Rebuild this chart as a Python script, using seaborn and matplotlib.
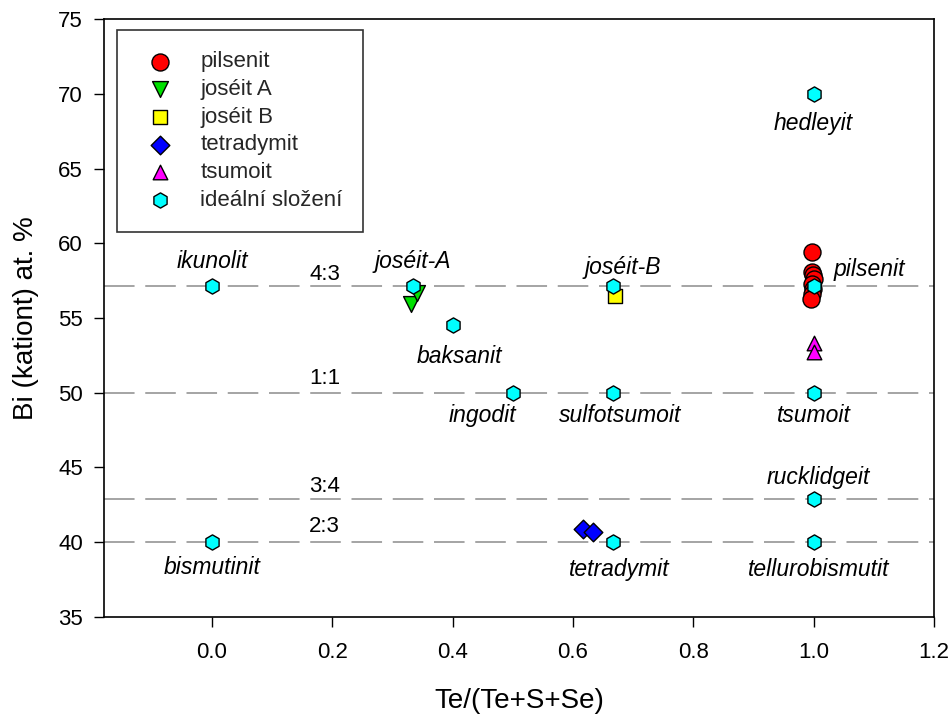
import matplotlib
matplotlib.use("Agg")
import matplotlib.pyplot as plt
import seaborn as sns
import pandas as pd

sns.set_theme(style="white")
plt.rcParams['font.family'] = ['Liberation Sans', 'DejaVu Sans']

# ---- data ----
pils_x = [0.998, 0.997, 0.999, 1.000, 0.998, 0.999, 0.997, 0.996]
pils_y = [59.45, 58.1, 57.9, 57.6, 57.25, 56.95, 56.6, 56.3]
josA_x = [0.331, 0.340]
josA_y = [55.95, 56.7]
josB_x = [0.670]
josB_y = [56.45]
tetr_x = [0.617, 0.634]
tetr_y = [40.85, 40.65]
tsum_x = [1.0, 1.0]
tsum_y = [53.3, 52.75]

ideal_names = ["ikunolit", "bismutinit", "joséit-A", "baksanit", "ingodit",
               "joséit-B", "sulfotsumoit", "tetradymit", "hedleyit", "pilsenit",
               "tsumoit", "rucklidgeit", "tellurobismutit"]
ideal_x = [0.0, 0.0, 1/3, 0.4, 0.5, 2/3, 2/3, 2/3, 1.0, 1.0, 1.0, 1.0, 1.0]
ideal_y = [57.14, 40.0, 57.14, 54.55, 50.0, 57.14, 50.0, 40.0, 70.0, 57.14, 50.0, 42.86, 40.0]
# label offsets (data units) for each ideal name
label_dx = [0.0, 0.0, 0.0, 0.012, -0.05, 0.016, 0.012, 0.01, 0.0, 0.092, 0.0, 0.008, 0.008]
label_dy = [1.65, -1.7, 1.65, -2.15, -1.5, 1.25, -1.5, -1.85, -1.95, 1.1, -1.5, 1.5, -1.8]

ratio_labels = ["4:3", "1:1", "3:4", "2:3"]
ratio_y = [57.14, 50.0, 42.86, 40.0]
ratio_label_y = [57.9, 50.95, 43.75, 41.05]

fig = plt.figure(figsize=(9.52, 7.14), dpi=100)
ax = fig.add_axes([0.109, 0.136, 0.872, 0.837])

for yv in ratio_y:
    ax.axhline(yv, color="#8c8c8c", lw=1.1, dashes=(20, 7), zorder=1)

groups = [
    ("pilsenit", pils_x, pils_y, "o", "#ff0000", 150),
    ("joséit A", josA_x, josA_y, "v", "#00e000", 130),
    ("joséit B", josB_x, josB_y, "s", "#ffff00", 100),
    ("tetradymit", tetr_x, tetr_y, "D", "#0000ff", 90),
    ("tsumoit", tsum_x, tsum_y, "^", "#ff00ff", 110),
    ("ideální složení", ideal_x, ideal_y, "h", "#00ffff", 120),
]
for i, (name, xs, ys, m, c, s) in enumerate(groups):
    df = pd.DataFrame({"x": xs, "y": ys})
    sns.scatterplot(data=df, x="x", y="y", marker=m, color=c, s=s,
                    edgecolor="black", linewidth=1.0, label=name, ax=ax,
                    zorder=3 + i)

for n, x, y, dx, dy in zip(ideal_names, ideal_x, ideal_y, label_dx, label_dy):
    ax.text(x + dx, y + dy, n, style="italic", fontsize=16.5,
            ha="center", va="center", color="black")

for t, y in zip(ratio_labels, ratio_label_y):
    ax.text(0.187, y, t, fontsize=16, ha="center", va="center", color="black")

ax.set_xlim(-0.18, 1.2)
ax.set_ylim(35, 75)
ax.set_xticks([0.0, 0.2, 0.4, 0.6, 0.8, 1.0, 1.2])
ax.set_xticklabels(["0.0", "0.2", "0.4", "0.6", "0.8", "1.0", "1.2"])
ax.set_yticks([35, 40, 45, 50, 55, 60, 65, 70, 75])
ax.tick_params(axis="both", which="major", direction="out", length=7,
               width=1, labelsize=16, color="black", labelcolor="black",
               bottom=True, left=True, pad=8)
ax.tick_params(axis="x", pad=11)
for sp in ax.spines.values():
    sp.set_color("black")
    sp.set_linewidth(1.2)
ax.set_xlabel("Te/(Te+S+Se)", fontsize=20, labelpad=18, color="black")
ax.set_ylabel("Bi (kationt) at. %", fontsize=20, labelpad=14, color="black")

leg = ax.legend(loc="upper left", bbox_to_anchor=(0.0157, 0.9816),
                borderaxespad=0, frameon=True, fancybox=False, fontsize=16,
                labelspacing=0.3, handletextpad=0.8, borderpad=0.95,
                markerscale=1.0, handlelength=2.0)
leg.get_frame().set_edgecolor("black")
leg.get_frame().set_linewidth(1.2)

fig.savefig("out.png", dpi=100)
